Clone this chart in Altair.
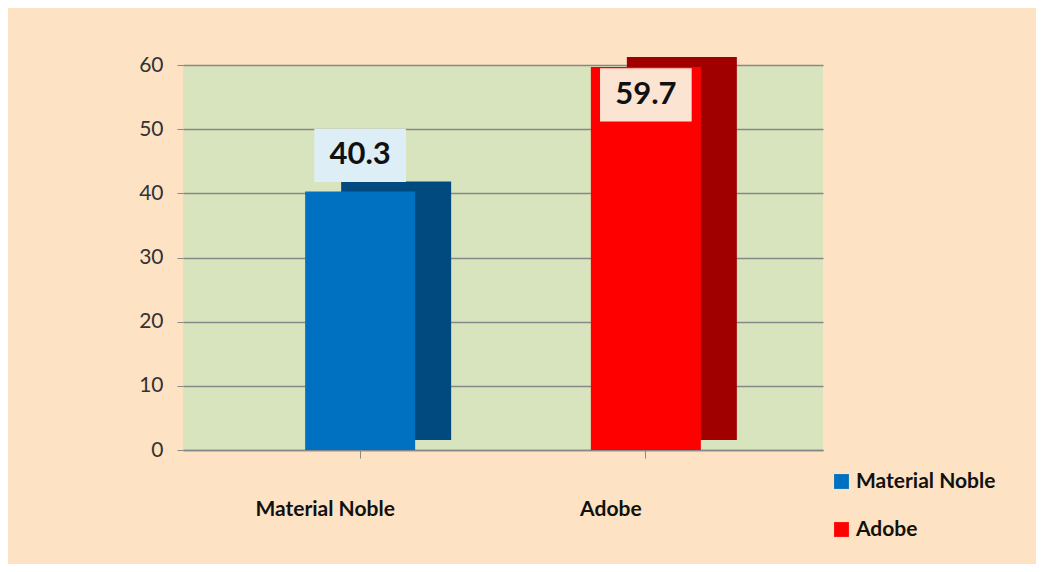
import altair as alt
import pandas as pd

categories = ["Material Noble", "Adobe"]
values = [40.3, 59.7]
front_colors = ["#0070C0", "#FF0000"]
side_colors = ["#004A80", "#A00000"]
label_fills = ["#DDEEF6", "#FCE4D2"]

df = pd.DataFrame({"cat": categories, "value": values, "fill": label_fills,
                   "side": side_colors})

FONT = "Lato"

x = alt.X("cat:N", sort=categories, title=None,
          scale=alt.Scale(paddingInner=0.3, paddingOuter=0.27),
          axis=alt.Axis(labelAngle=0, labelFontSize=21, labelFontWeight="bold",
                        labelColor="#111111", labelPadding=40, labelOffset=-35,
                        ticks=True, tickColor="#888888",
                        tickSize=8, domain=True, domainColor="#888888", domainWidth=1.5,
                        labelFont=FONT))
y = alt.Y("value:Q", scale=alt.Scale(domain=[0, 60]), title=None,
          axis=alt.Axis(values=[0, 10, 20, 30, 40, 50, 60], labelFontSize=21,
                        labelColor="#333333", labelPadding=14, tickColor="#888888",
                        tickSize=6, gridColor="#888888", gridWidth=1.5, domain=False,
                        labelFont=FONT))

side = alt.Chart(df).mark_bar(size=110, xOffset=36, yOffset=-10).encode(
    x=x, y=y,
    fill=alt.Fill("side:N", scale=None)
)

front = alt.Chart(df).mark_bar(size=110).encode(
    x=x, y=y,
    color=alt.Color("cat:N", sort=categories,
                    scale=alt.Scale(domain=categories, range=front_colors),
                    legend=alt.Legend(title=None, orient="none", legendX=648, legendY=406,
                                      symbolType="square", symbolSize=220,
                                      labelFontSize=21, labelFontWeight="bold",
                                      labelColor="#111111", rowPadding=26,
                                      labelFont=FONT, symbolStrokeWidth=0))
)

box = alt.Chart(df).mark_point(
    shape="M-1,-0.58L1,-0.58L1,0.58L-1,0.58Z", size=8400, filled=True, opacity=1,
    yOffset={"expr": "datum.value > 50 ? 28 : -36"}
).encode(
    x=x, y=y,
    fill=alt.Fill("fill:N", scale=None)
)

text = alt.Chart(df).mark_text(
    fontSize=31, fontWeight="bold", color="#111111", font=FONT,
    yOffset={"expr": "datum.value > 50 ? 28 : -36"}
).encode(
    x=x, y=y,
    text=alt.Text("value:Q", format=".1f")
)

chart = alt.layer(side, front, box, text).properties(
    width=640, height=385,
    padding={"left": 175, "top": 57, "right": 213, "bottom": 114},
    autosize=alt.AutoSizeParams(type="none"),
    background="#FDE2C3"
).configure_view(
    fill="#D8E4BD", stroke=None
)

chart.save("out.html", embed_options={"renderer": "svg", "actions": False})
